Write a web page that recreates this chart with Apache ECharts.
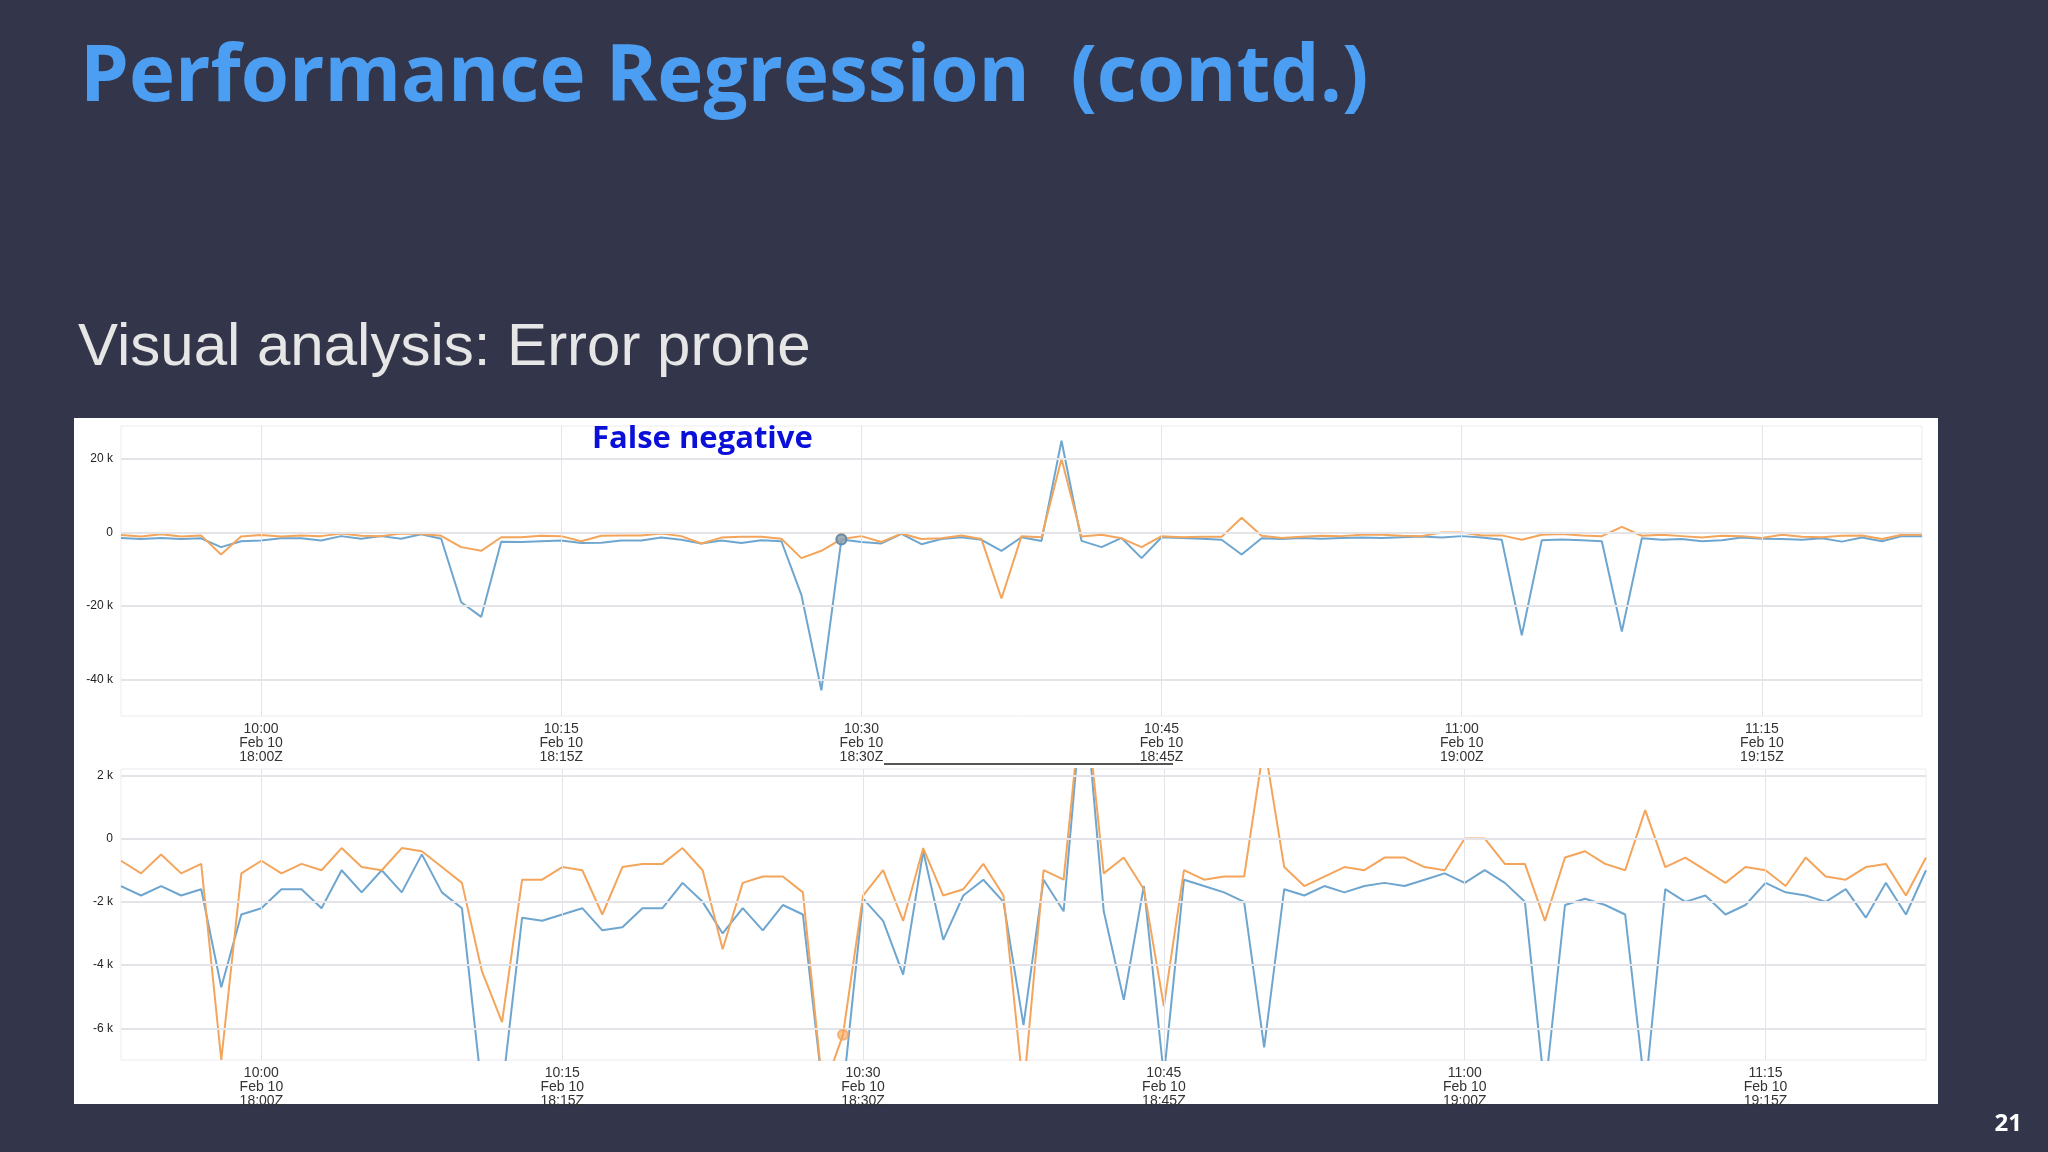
<!DOCTYPE html>
<html><head><meta charset="utf-8">
<script src="https://cdn.jsdelivr.net/npm/echarts@6/dist/echarts.min.js"></script>
<style>html,body{margin:0;padding:0;background:#33364a;}#c{width:2048px;height:1152px;}</style>
</head><body><div id="c"></div>
<script>
// minutes relative to 10:00 (Feb 10)
const minutes = [];
for (let t = -7; t <= 83; t++) minutes.push(t);
const timeTicks = [0, 15, 30, 45, 60, 75];
const tickLabels = ['10:00\nFeb 10\n18:00Z','10:15\nFeb 10\n18:15Z','10:30\nFeb 10\n18:30Z','10:45\nFeb 10\n18:45Z','11:00\nFeb 10\n19:00Z','11:15\nFeb 10\n19:15Z'];
const topYTicks = [20000, 0, -20000, -40000];
const botYTicks = [2000, 0, -2000, -4000, -6000];

// top chart (t = -7 .. 83)
const topBlue = [-1500,-1800,-1500,-1800,-1600,-4000,-2400,-2200,-1600,-1600,-2200,-1000,-1700,-1000,-1700,-500,-1700,-19000,-23000,-2500,-2600,-2400,-2200,-2900,-2800,-2200,-2200,-1400,-2000,-3000,-2200,-2900,-2100,-2400,-17000,-43000,-1900,-2600,-3000,-400,-3200,-1800,-1300,-2000,-5000,-1300,-2300,25000,-2300,-4000,-1500,-7000,-1300,-1500,-1700,-2000,-6000,-1600,-1800,-1500,-1700,-1500,-1400,-1500,-1300,-1100,-1400,-1000,-1400,-2000,-28000,-2100,-1900,-2100,-2400,-27000,-1600,-2000,-1800,-2400,-2100,-1400,-1700,-1800,-2000,-1600,-2500,-1400,-2400,-1000,-1000];
const topOrange = [-700,-1100,-500,-1100,-800,-6000,-1100,-700,-1100,-800,-1000,-300,-900,-1000,-300,-400,-900,-4000,-5000,-1300,-1300,-900,-1000,-2400,-900,-800,-800,-300,-1000,-3000,-1400,-1200,-1200,-1700,-7000,-5000,-1800,-1000,-2600,-300,-1800,-1600,-800,-1800,-18000,-1000,-1300,20000,-1100,-600,-1600,-4000,-1000,-1300,-1200,-1200,4000,-900,-1500,-1200,-900,-1000,-600,-600,-900,-1000,0,0,-800,-800,-2000,-600,-400,-800,-1000,1500,-900,-600,-1000,-1400,-900,-1000,-1500,-600,-1200,-1300,-900,-800,-1800,-600,-600];
// bottom chart (t = -7 .. 83)
const botBlue = [-1500,-1800,-1500,-1800,-1600,-4700,-2400,-2200,-1600,-1600,-2200,-1000,-1700,-1000,-1700,-500,-1700,-2200,-8000,-8000,-2500,-2600,-2400,-2200,-2900,-2800,-2200,-2200,-1400,-2000,-3000,-2200,-2900,-2100,-2400,-8000,-8000,-1900,-2600,-4300,-400,-3200,-1800,-1300,-2000,-5900,-1300,-2300,5000,-2300,-5100,-1500,-7500,-1300,-1500,-1700,-2000,-6600,-1600,-1800,-1500,-1700,-1500,-1400,-1500,-1300,-1100,-1400,-1000,-1400,-2000,-8000,-2100,-1900,-2100,-2400,-8000,-1600,-2000,-1800,-2400,-2100,-1400,-1700,-1800,-2000,-1600,-2500,-1400,-2400,-1000];
const botOrange = [-700,-1100,-500,-1100,-800,-7000,-1100,-700,-1100,-800,-1000,-300,-900,-1000,-300,-400,-900,-1400,-4200,-5800,-1300,-1300,-900,-1000,-2400,-900,-800,-800,-300,-1000,-3500,-1400,-1200,-1200,-1700,-8000,-6200,-1800,-1000,-2600,-300,-1800,-1600,-800,-1800,-8000,-1000,-1300,5000,-1100,-600,-1600,-5300,-1000,-1300,-1200,-1200,3000,-900,-1500,-1200,-900,-1000,-600,-600,-900,-1000,0,0,-800,-800,-2600,-600,-400,-800,-1000,900,-900,-600,-1000,-1400,-900,-1000,-1500,-600,-1200,-1300,-900,-800,-1800,-600];
const markerMinute = 29;

const BLUE = '#6ea6cf', ORANGE = '#f4a55c';
const pair = (arr) => minutes.map((t, i) => [t, arr[i]]);
const mi = minutes.indexOf(markerMinute);

function fmtK(v){ return v === 0 ? '0' : (v/1000) + ' k'; }
function vLines(labels){
  return { silent:true, symbol:'none', lineStyle:{color:'#e3e3e8',width:1,type:'solid'},
    label:{show:labels, position:'start', formatter:(p)=>tickLabels[timeTicks.indexOf(p.value)], color:'#333', fontSize:14, lineHeight:14, fontFamily:'Liberation Sans Narrow, Liberation Sans', distance:6},
    data: timeTicks.map(t=>({xAxis:t})) };
}
function hLines(ticks){
  return { silent:true, symbol:'none', lineStyle:{color:'#e3e3e8',width:2,type:'solid'}, label:{show:false},
    data: ticks.map(v=>({yAxis:v})) };
}
const chart = echarts.init(document.getElementById('c'));
chart.setOption({
  backgroundColor:'#33364a',
  animation:false,
  graphic:[
    {type:'rect', shape:{x:74,y:418,width:1864,height:686}, style:{fill:'#ffffff'}, z:-10},
    {type:'text', left:80, top:40, style:{text:'Performance Regression  (contd.)', fill:'#4b9ef2', font:'bold 78px "Open Sans"'}},
    {type:'text', left:78, top:318, style:{text:'Visual analysis: Error prone', fill:'#e6e6e6', font:'60px "Liberation Sans"'}},
    {type:'text', left:592, top:424, style:{text:'False negative', fill:'#0a10d8', font:'bold 31px "Open Sans"'}, z:20},
    {type:'line', shape:{x1:884,y1:764,x2:1173,y2:764}, style:{stroke:'#555',lineWidth:2}, z:20},
    {type:'text', right:26, top:1112, style:{text:'21', fill:'#ffffff', font:'bold 24px "Open Sans"'}}
  ],
  grid:[
    {left:121, right:126, top:426, height:290, show:true, borderColor:'#ececf0', borderWidth:1},
    {left:121, right:122, top:769, height:291, show:true, borderColor:'#ececf0', borderWidth:1}
  ],
  xAxis:[
    {gridIndex:0, type:'value', min:-7, max:83, axisLabel:{show:false}, axisTick:{show:false}, axisLine:{show:false}, splitLine:{show:false}},
    {gridIndex:1, type:'value', min:-7, max:83, axisLabel:{show:false}, axisTick:{show:false}, axisLine:{show:false}, splitLine:{show:false}}
  ],
  yAxis:[
    {gridIndex:0, type:'value', min:-50000, max:29000, interval:10000, splitLine:{show:false}, axisLine:{show:false}, axisTick:{show:false},
     axisLabel:{color:'#222', fontSize:12, fontFamily:'Liberation Sans', margin:8, formatter:(v)=>topYTicks.includes(v)?fmtK(v):''}},
    {gridIndex:1, type:'value', min:-7000, max:2200, interval:1000, splitLine:{show:false}, axisLine:{show:false}, axisTick:{show:false},
     axisLabel:{color:'#222', fontSize:12, fontFamily:'Liberation Sans', margin:8, formatter:(v)=>botYTicks.includes(v)?fmtK(v):''}}
  ],
  series:[
    {type:'line', xAxisIndex:0, yAxisIndex:0, data:pair(topOrange), showSymbol:false, lineStyle:{color:ORANGE,width:2}, itemStyle:{color:ORANGE}, z:3,
     markLine:vLines(true)},
    {type:'line', xAxisIndex:0, yAxisIndex:0, data:pair(topBlue), showSymbol:false, lineStyle:{color:BLUE,width:2}, itemStyle:{color:BLUE}, z:2,
     markLine:hLines(topYTicks)},
    {type:'line', xAxisIndex:1, yAxisIndex:1, data:pair(botOrange), showSymbol:false, lineStyle:{color:ORANGE,width:2}, itemStyle:{color:ORANGE}, z:3,
     markLine:vLines(true)},
    {type:'line', xAxisIndex:1, yAxisIndex:1, data:pair(botBlue), showSymbol:false, lineStyle:{color:BLUE,width:2}, itemStyle:{color:BLUE}, z:2,
     markLine:hLines(botYTicks)},
    {type:'scatter', xAxisIndex:0, yAxisIndex:0, symbolSize:10, z:5, itemStyle:{color:'rgba(244,165,92,0.8)', borderColor:ORANGE, borderWidth:2}, data:[[markerMinute, topOrange[mi]]]},
    {type:'scatter', xAxisIndex:0, yAxisIndex:0, symbolSize:10, z:5, itemStyle:{color:'rgba(110,166,207,0.8)', borderColor:'#4a86b5', borderWidth:2}, data:[[markerMinute, topBlue[mi]]]},
    {type:'scatter', xAxisIndex:1, yAxisIndex:1, symbolSize:10, z:5, itemStyle:{color:'rgba(244,165,92,0.8)', borderColor:ORANGE, borderWidth:2}, data:[[markerMinute, botOrange[mi]]]}
  ]
});
</script></body></html>
